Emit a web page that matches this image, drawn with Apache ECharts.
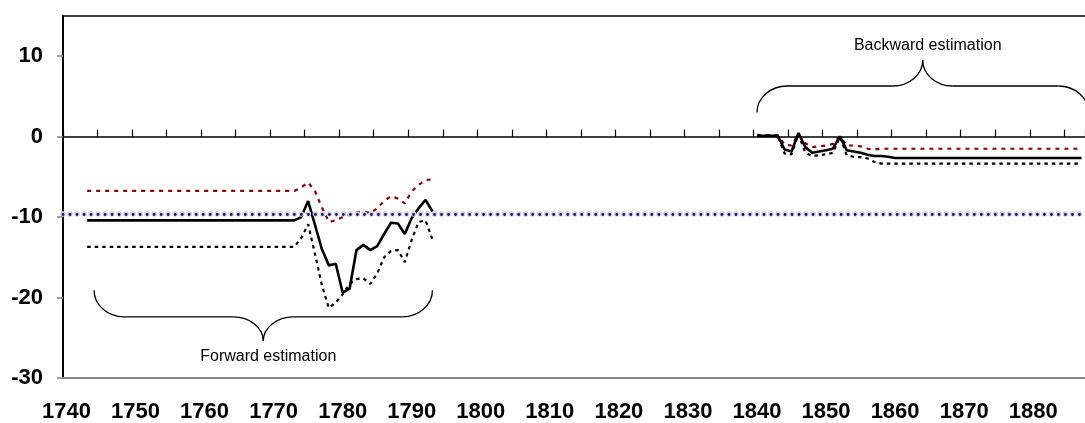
<!DOCTYPE html>
<html>
<head>
<meta charset="utf-8">
<script src="https://cdn.jsdelivr.net/npm/echarts@6/dist/echarts.min.js"></script>
<style>
html,body{margin:0;padding:0;background:#fff;}
#chart{width:1085px;height:423px;}
</style>
</head>
<body>
<div id="chart"></div>
<script>
// ---- categories (years) ----
const firstYear = 1740;
const lastYear = 1887;
const categories = [];
for (let y = firstYear; y <= lastYear; y++) categories.push(String(y));

// ---- y axis ----
const yMin = -30, yMax = 15, yStep = 10;
const yTickValues = [-30, -20, -10, 0, 10];

// ---- forward estimation ----
const fwdYears   = [1743, 1773, 1774, 1775, 1776, 1777, 1778, 1779, 1780, 1781, 1782, 1783, 1784, 1785, 1786, 1787, 1788, 1789, 1790, 1791, 1792, 1793];
const fwdCentral = [-10.4, -10.4, -10.0, -8.0, -11.0, -14.0, -16.0, -15.8, -19.4, -18.9, -14.1, -13.45, -14.1, -13.6, -12.1, -10.7, -10.8, -12.1, -10.1, -8.9, -7.85, -9.3];
const fwdUpper   = [-6.75, -6.75, -6.3, -5.7, -6.8, -8.8, -10.6, -10.4, -10.0, -9.7, -9.4, -9.3, -9.5, -8.9, -8.0, -7.4, -7.7, -8.3, -6.8, -6.0, -5.4, -5.3];
const fwdLower   = [-13.7, -13.7, -12.6, -10.9, -14.6, -18.5, -21.3, -20.6, -19.6, -18.3, -17.7, -17.6, -18.3, -17.0, -15.0, -14.2, -14.1, -15.6, -12.8, -10.6, -10.4, -12.8];

// ---- backward estimation ----
const bwdYears   = [1840, 1843, 1844, 1845, 1846, 1847, 1848, 1849, 1850, 1851, 1852, 1853, 1854, 1855, 1856, 1857, 1858, 1859, 1860, 1887];
const bwdCentral = [0.1, 0.1, -1.6, -1.85, 0.45, -1.3, -2.0, -1.85, -1.7, -1.5, 0.05, -1.7, -1.85, -2.0, -2.25, -2.4, -2.4, -2.5, -2.65, -2.65];
const bwdUpper   = [0.2, 0.2, -1.0, -1.1, 0.3, -0.8, -1.3, -1.2, -1.1, -0.9, 0.05, -1.1, -1.1, -1.2, -1.5, -1.6, -1.5, -1.5, -1.5, -1.5];
const bwdLower   = [0.1, 0.1, -2.1, -2.2, 0.3, -2.0, -2.4, -2.3, -2.2, -2.0, 0.0, -2.3, -2.5, -2.55, -2.7, -3.15, -3.35, -3.35, -3.35, -3.35];

// ---- reference level (dotted blue) ----
const refLevel = -9.6;

// ---- annotations (braces + labels) ----
const annotations = [
  {label: 'Forward estimation',  left: '1744', right: '1793', yEnd: -19.1, yMid: -22.4, yTip: -25.4, yText: -27.4},
  {label: 'Backward estimation', left: '1840', centre: '1864', yEnd: 3.0, yMid: 6.3, yTip: 9.5, yText: 11.3}
];

function pairs(years, vals) { return years.map((y, i) => [String(y), vals[i]]); }

const solidStyle = {color: '#000000', width: 2.6, type: 'solid'};
const upperStyle = {color: '#8B0000', width: 2.2, type: [4, 5]};
const lowerStyle = {color: '#000000', width: 2.2, type: [3.5, 4]};

function lineSeries(name, data, style, z) {
  return {type: 'line', name: name, data: data, symbol: 'none', xAxisIndex: 0, yAxisIndex: 0,
          lineStyle: style, silent: true, animation: false, z: z, connectNulls: false};
}

const FONT = '"Liberation Sans", Arial, sans-serif';

const chart = echarts.init(document.getElementById('chart'), null, {renderer: 'canvas'});
const option = {
  animation: false,
  backgroundColor: '#ffffff',
  grid: {left: 63, right: 0, top: 16, bottom: 40, containLabel: false},
  xAxis: [
    { // axis through zero with upward ticks
      type: 'category', data: categories, boundaryGap: true,
      axisLine: {onZero: true, lineStyle: {color: '#000', width: 1.5}},
      axisTick: {show: true, inside: true, length: 7, interval: 4, lineStyle: {color: '#000', width: 1.2}},
      axisLabel: {show: false}, splitLine: {show: false}
    },
    { // bottom labels
      type: 'category', data: categories, boundaryGap: true, position: 'bottom',
      axisLine: {onZero: false, show: true, lineStyle: {color: '#888888', width: 2}},
      axisTick: {show: false},
      axisLabel: {interval: 9, margin: 23, color: '#000', fontWeight: 'bold', fontSize: 22, fontFamily: FONT},
      splitLine: {show: false}
    },
    { // top border
      type: 'category', data: categories, boundaryGap: true, position: 'top',
      axisLine: {onZero: false, show: true, lineStyle: {color: '#000', width: 1.5}},
      axisTick: {show: false}, axisLabel: {show: false}, splitLine: {show: false}
    }
  ],
  yAxis: {
    type: 'value', min: yMin, max: yMax, interval: yStep,
    axisLine: {show: true, onZero: false, lineStyle: {color: '#000', width: 2}},
    axisTick: {show: true, length: 6, customValues: yTickValues, lineStyle: {color: '#808080', width: 1.5}},
    axisLabel: {margin: 20, color: '#000', fontWeight: 'bold', fontSize: 22, fontFamily: FONT,
                customValues: yTickValues, formatter: v => (v > 10 ? '' : String(v))},
    splitLine: {show: false}
  },
  series: [
    lineSeries('fwdUpper', pairs(fwdYears, fwdUpper), upperStyle, 2),
    lineSeries('fwdLower', pairs(fwdYears, fwdLower), lowerStyle, 2),
    lineSeries('fwdCentral', pairs(fwdYears, fwdCentral), solidStyle, 3),
    lineSeries('bwdUpper', pairs(bwdYears, bwdUpper), upperStyle, 2),
    lineSeries('bwdLower', pairs(bwdYears, bwdLower), lowerStyle, 2),
    lineSeries('bwdCentral', pairs(bwdYears, bwdCentral), solidStyle, 3),
    {
      type: 'line', name: 'ref', data: [], xAxisIndex: 0, yAxisIndex: 0, z: 5, silent: true,
      markLine: {
        silent: true, symbol: ['none', 'none'], label: {show: false}, animation: false,
        data: [
          {yAxis: refLevel, lineStyle: {color: '#cfd0dc', width: 5.5, type: [0.01, 7], cap: 'round'}},
          {yAxis: refLevel, lineStyle: {color: '#14147f', width: 2.8, type: [0.01, 7], cap: 'round'}}
        ]
      }
    }
  ]
};
chart.setOption(option);

// ---- braces and annotation labels positioned through the axes ----
function xPx(cat) { return chart.convertToPixel({xAxisIndex: 0}, cat); }
function yPx(v) { return chart.convertToPixel({yAxisIndex: 0}, v); }

const braceStyle = {stroke: '#000', lineWidth: 1.3, fill: null};
function bez(x1, y1, c1x, c1y, c2x, c2y, x2, y2) {
  return {type: 'bezierCurve', silent: true, z: 10,
          shape: {x1: x1, y1: y1, cpx1: c1x, cpy1: c1y, cpx2: c2x, cpy2: c2y, x2: x2, y2: y2},
          style: braceStyle};
}
function seg(x1, y1, x2, y2) {
  return {type: 'line', silent: true, z: 10, shape: {x1: x1, y1: y1, x2: x2, y2: y2}, style: braceStyle};
}
function braceParts(xL, xR, yE, yM, yT, r) {
  const xc = (xL + xR) / 2, k = 0.552;
  return [
    bez(xL, yE, xL, yE + k * (yM - yE), xL + r * (1 - k), yM, xL + r, yM),
    seg(xL + r, yM, xc - r, yM),
    bez(xc - r, yM, xc - r * (1 - k), yM, xc, yT - k * (yT - yM), xc, yT),
    bez(xc, yT, xc, yT - k * (yT - yM), xc + r * (1 - k), yM, xc + r, yM),
    seg(xc + r, yM, xR - r, yM),
    bez(xR - r, yM, xR - r * (1 - k), yM, xR, yE + k * (yM - yE), xR, yE)
  ];
}

let graphics = [];
annotations.forEach(a => {
  const xL = xPx(a.left);
  const xR = a.right ? xPx(a.right) : 2 * xPx(a.centre) - xL;
  const xc = (xL + xR) / 2;
  graphics = graphics.concat(braceParts(xL, xR, yPx(a.yEnd), yPx(a.yMid), yPx(a.yTip), 30));
  graphics.push({
    type: 'text', silent: true, z: 10, x: xc + 5, y: yPx(a.yText),
    style: {text: a.label, fontSize: 16, fontFamily: FONT, fill: '#000',
            align: 'center', verticalAlign: 'middle', textAlign: 'center', textVerticalAlign: 'middle'}
  });
});
chart.setOption({graphic: graphics});
</script>
</body>
</html>
